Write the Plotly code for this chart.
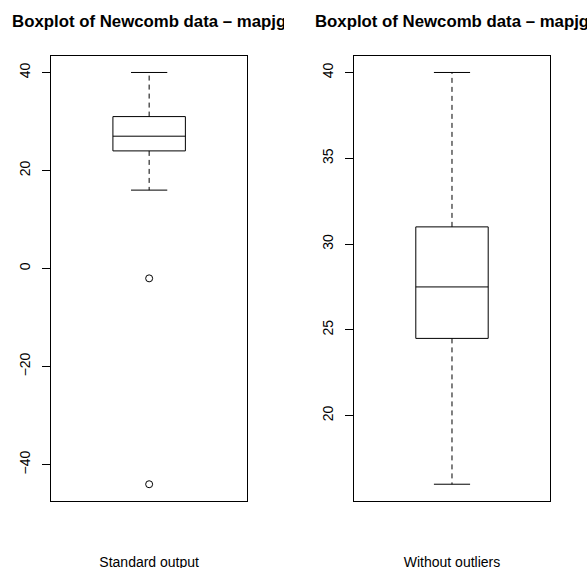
import plotly.graph_objects as go

# ---- data ----
panel_titles = ["Boxplot of Newcomb data – mapjg", "Boxplot of Newcomb data – mapjg"]
panel_labels = ["Standard output", "Without outliers"]
whisker_low = [16, 16]
q1 = [24, 24.5]
median = [27, 27.5]
q3 = [31, 31]
whisker_high = [40, 40]
outliers = [[-2, -44], []]
y_tick_vals = [[-40, -20, 0, 20, 40], [20, 25, 30, 35, 40]]

# ---- layout constants ----
W, H = 587, 568
x_domains = [[51.3 / W, 247.0 / W], [354.3 / W, 549.7 / W]]
y_domain = [(H - 500.7) / H, (H - 56.0) / H]
title_clip = [[0, 284.0], [303.0, float(W)]]
pos = 1.0
box_half = 0.2
staple_half = 0.1
FONT = "Liberation Sans, Arial, Helvetica, sans-serif"

fig = go.Figure()
layout = dict(
    width=W, height=H, autosize=False,
    margin=dict(l=0, r=0, t=0, b=0),
    paper_bgcolor="white", plot_bgcolor="rgba(0,0,0,0)",
    showlegend=False, hovermode=False,
    font=dict(family=FONT, size=14, color="black"),
)

for i in range(2):
    xa = "x" if i == 0 else "x2"
    ya = "y" if i == 0 else "y2"
    lo_vals = [whisker_low[i]] + outliers[i]
    hi_vals = [whisker_high[i]] + outliers[i]
    lo, hi = min(lo_vals), max(hi_vals)
    pad = 0.04 * (hi - lo)

    # box + median + staples (solid)
    xs = [pos - box_half, pos + box_half, pos + box_half, pos - box_half, pos - box_half, None,
          pos - box_half, pos + box_half, None,
          pos - staple_half, pos + staple_half, None,
          pos - staple_half, pos + staple_half]
    ys = [q1[i], q1[i], q3[i], q3[i], q1[i], None,
          median[i], median[i], None,
          whisker_low[i], whisker_low[i], None,
          whisker_high[i], whisker_high[i]]
    fig.add_trace(go.Scatter(x=xs, y=ys, mode="lines", xaxis=xa, yaxis=ya,
                             line=dict(color="black", width=1), hoverinfo="skip"))
    # dashed whiskers
    fig.add_trace(go.Scatter(x=[pos, pos, None, pos, pos],
                             y=[q3[i], whisker_high[i], None, q1[i], whisker_low[i]],
                             mode="lines", xaxis=xa, yaxis=ya,
                             line=dict(color="black", width=1, dash="5px,4px"), hoverinfo="skip"))
    # outliers
    if outliers[i]:
        fig.add_trace(go.Scatter(x=[pos] * len(outliers[i]), y=outliers[i], mode="markers",
                                 xaxis=xa, yaxis=ya,
                                 marker=dict(symbol="circle-open", size=7, color="black",
                                             line=dict(width=1, color="black")),
                                 hoverinfo="skip"))

    sfx = "" if i == 0 else "2"
    layout["xaxis" + sfx] = dict(domain=x_domains[i], range=[0.46, 1.54], anchor=ya,
                                 showticklabels=False, ticks="", showgrid=False, zeroline=False,
                                 showline=True, mirror=True, linecolor="black", linewidth=1,
                                 fixedrange=True)
    layout["yaxis" + sfx] = dict(domain=y_domain, range=[lo - pad, hi + pad], anchor=xa,
                                 tickmode="array", tickvals=y_tick_vals[i],
                                 ticktext=[str(v) if v >= 0 else "\u2212" + str(-v) for v in y_tick_vals[i]],
                                 ticks="outside", ticklen=8, tickwidth=1, tickcolor="black",
                                 tickangle=-90, ticklabelstandoff=7,
                                 tickfont=dict(family=FONT, size=14, color="black"),
                                 showgrid=False, zeroline=False,
                                 showline=True, mirror=True, linecolor="black", linewidth=1,
                                 fixedrange=True)

# ---- overlay subplots (pixel coordinates) for clipped titles and bottom labels ----
overlay_ids = [("x3", "y3", "xaxis3", "yaxis3"), ("x4", "y4", "xaxis4", "yaxis4")]
for i, (xa, ya, xk, yk) in enumerate(overlay_ids):
    c0, c1 = title_clip[i]
    layout[xk] = dict(domain=[c0 / W, c1 / W], range=[c0, c1], anchor=ya, visible=False,
                      fixedrange=True)
    layout[yk] = dict(domain=[0, 1], range=[H, 0], anchor=xa, visible=False, fixedrange=True)
    cx = (x_domains[i][0] + x_domains[i][1]) / 2 * W
    fig.add_trace(go.Scatter(x=[cx], y=[22.5], mode="text", text=[panel_titles[i]],
                             textposition="middle center", xaxis=xa, yaxis=ya, cliponaxis=True,
                             textfont=dict(family=FONT, size=16.8, color="black", weight="bold"),
                             hoverinfo="skip"))
    fig.add_trace(go.Scatter(x=[cx], y=[563.5], mode="text", text=[panel_labels[i]],
                             textposition="middle center", xaxis=xa, yaxis=ya, cliponaxis=True,
                             textfont=dict(family=FONT, size=14, color="black"),
                             hoverinfo="skip"))

fig.update_layout(**layout)
fig.write_html("out.html", config={"displayModeBar": False},
               post_script="document.body.style.margin='0';document.body.style.overflow='hidden';")
